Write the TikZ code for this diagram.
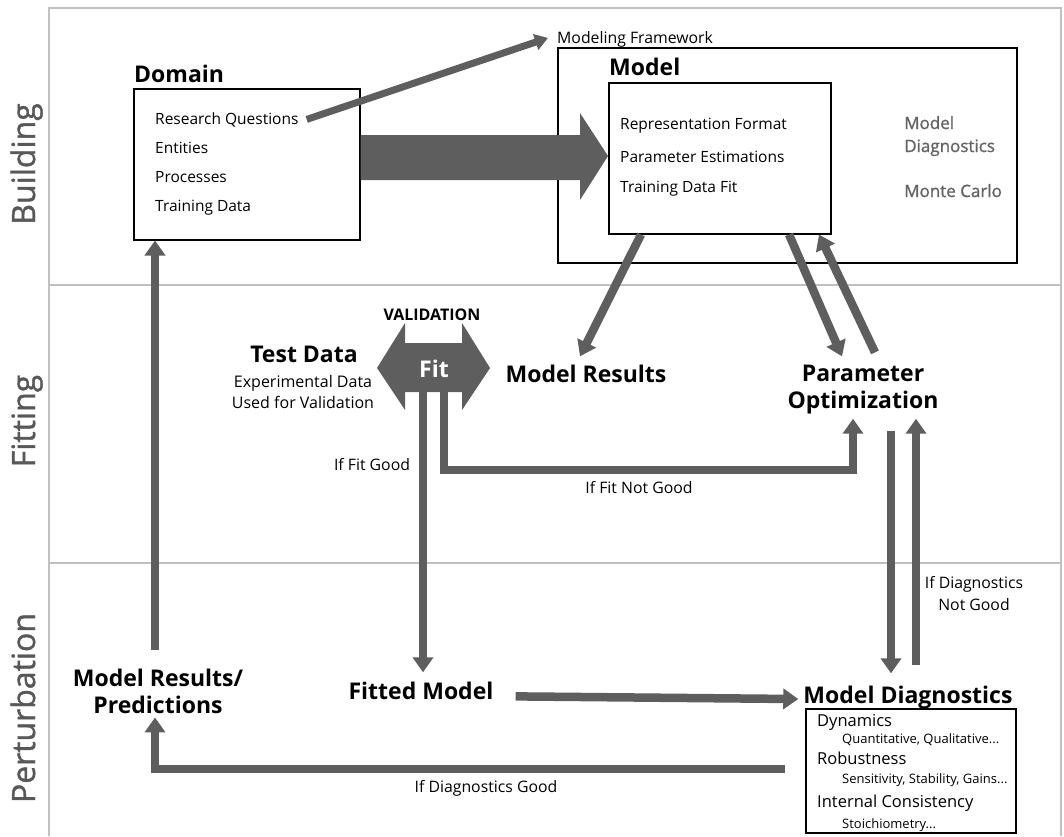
\documentclass[tikz,border=0pt]{standalone}
\usepackage{fontspec}
\setmainfont{Open Sans}
\newfontfamily\semib[FakeBold=1.2]{Open Sans}
\usetikzlibrary{arrows.meta,calc}
\definecolor{ag}{RGB}{94,94,94}
\definecolor{fr}{RGB}{192,192,192}
\definecolor{sg}{RGB}{88,88,88}
\definecolor{gg}{RGB}{100,100,100}
\begin{document}
\begin{tikzpicture}[x=1pt,y=-1pt,
  sect/.style={rotate=90, anchor=base, text=sg, inner sep=0, font=\fontsize{32}{36}\semib},
  ttl/.style={inner sep=0, anchor=base, font=\fontsize{23}{27}\selectfont\bfseries},
  itm/.style={inner sep=0, anchor=base west, font=\fontsize{15.5}{18}\selectfont},
  ditm/.style={inner sep=0, anchor=base west, font=\fontsize{16.5}{19}\selectfont},
  sub/.style={inner sep=0, anchor=base west, font=\fontsize{13}{15}\selectfont},
  lbl/.style={inner sep=0, anchor=base, font=\fontsize{15.8}{19}\selectfont},
  gtx/.style={inner sep=0, anchor=base west, text=gg, font=\fontsize{17}{20}\semib},
  bx/.style={draw=black, line width=1.5pt, inner sep=0, anchor=north west},
  arr/.style={draw=ag, line width=8.5pt, -{Triangle[length=15pt,width=20pt]}},
  grid/.style={draw=fr, line width=1.5pt}
]
\useasboundingbox (0,0) rectangle (1064,836);
% frame
\draw[grid] (49,836) -- (49,8) -- (1061,8) -- (1061,836);
\draw[grid] (49,285) -- (1061,285);
\draw[grid] (49,563) -- (1061,563);
% section labels
\node[sect] (sb) at (35,164) {Building};
\node[sect] (sf) at (35,421) {Fitting};
\node[sect] (sp) at (35,708) {Perturbation};

% Domain
\node[ttl, anchor=base west] (domt) at (134,82) {Domain};
\node[bx, minimum width=226pt, minimum height=151pt] (dom) at (133,88) {};
\node[itm] (rq) at (155,124) {Research Questions};
\node[itm] (en) at (155,153) {Entities};
\node[itm] (pr) at (155,182) {Processes};
\node[itm] (td) at (155,211) {Training Data};

% Model
\node[bx, minimum width=459pt, minimum height=215pt] (mod) at (557,47) {};
\node[ttl, anchor=base west] (modt) at (609,75) {Model};
\node[bx, minimum width=222pt, minimum height=151pt] (mi) at (608,82) {};
\node[itm] (rf) at (620,129) {Representation Format};
\node[itm] (pe) at (620,162) {Parameter Estimations};
\node[itm] (tf) at (620,192) {Training Data Fit};
\node[gtx] (gm) at (904,129) {Model};
\node[gtx] (gd) at (904,152) {Diagnostics};
\node[gtx] (gc) at (904,197) {Monte Carlo};
\node[lbl, anchor=base west] (mf) at (557,43) {Modeling Framework};

% Fitting
\node[font=\fontsize{16}{19}\selectfont\bfseries, inner sep=0, anchor=base] (val) at (432,320) {VALIDATION};
\fill[ag] (377,368) -- (405,323) -- (405,343) -- (462,343) -- (462,323) -- (490,368)
  -- (462,410) -- (462,392) -- (405,392) -- (405,410) -- cycle;
\node[ttl, text=white] (fit) at (434,377) {Fit};
\coordinate (fitb) at (434,392);
\node[ttl] (tdat) at (304,362) {Test Data};
\node[lbl, font=\fontsize{16}{19}\selectfont] (ex1) at (303,387) {Experimental Data};
\node[lbl, font=\fontsize{16}{19}\selectfont] (ex2) at (303,408) {Used for Validation};
\node[ttl] (mr) at (586,382) {Model Results};
\node[ttl] (po1) at (863,381) {Parameter};
\node[ttl] (po2) at (863,408) {Optimization};
\node[lbl] (ifg) at (372,470) {If Fit Good};
\node[lbl] (ifng) at (639,493) {If Fit Not Good};

% Perturbation
\node[ttl] (mrp1) at (158,686) {Model Results/};
\node[ttl] (mrp2) at (158,713) {Predictions};
\node[ttl] (fm) at (421,699) {Fitted Model};
\node[ttl] (md) at (908,703) {Model Diagnostics};
\node[bx, minimum width=210pt, minimum height=124pt] (db) at (805,708) {};
\node[ditm] (d1) at (817,726) {Dynamics};
\node[sub] (d1s) at (842,743) {Quantitative, Qualitative...};
\node[ditm] (d2) at (817,764) {Robustness};
\node[sub] (d2s) at (842,783) {Sensitivity, Stability, Gains...};
\node[ditm] (d3) at (817,807) {Internal Consistency};
\node[sub] (d3s) at (842,828) {Stoichiometry...};
\node[lbl] (idg) at (486,792) {If Diagnostics Good};
\node[lbl] (idn1) at (974,588) {If Diagnostics};
\node[lbl] (idn2) at (974,610) {Not Good};

% connectors
\draw[arr, line width=7pt, -{Triangle[length=13pt,width=16pt]}] ($(rq.east)+(8,0)$) -- ($(mf.west)+(-9,-1)$);
\fill[ag] (dom.east |- 0,135) -- (580,135) -- (580,113) -- (mi.west |- 0,156) -- (580,200) -- (580,180) -- (dom.east |- 0,180) -- cycle;
\draw[arr] (mi.south -| 641,0) -- ($(mr.north)+(-6,-8)$);
\draw[arr] (mi.south -| 789,0) -- ($(po1.north)+(-21,-8)$);
\draw[arr] ($(po1.north)+(12,-12)$) -- (mi.south -| 819,0);
\draw[arr] ($(fitb)+(-11,0)$) -- ($(fm.north -| 423,0)+(0,-9)$);
\draw[arr] ($(fitb)+(10,0)$) |- (853,470) -- ($(po2.south)+(-10,5)$);
\draw[arr] ($(po2.south)+(28,17)$) -- ($(md.north)+(-17,-12)$);
\draw[arr] ($(md.north)+(8,-20)$) -- ($(po2.south)+(53,5)$);
\draw[arr] ($(fm.east)+(22,6)$) -- ($(md.west)+(-5,2)$);
\draw[arr] ($(db.west)+(-20,-2)$) -| ($(mrp2.south)+(-3,4)$);
\draw[arr] ($(mrp1.north)+(-3,-18)$) -- (dom.south -| 155,0);
\end{tikzpicture}
\end{document}
